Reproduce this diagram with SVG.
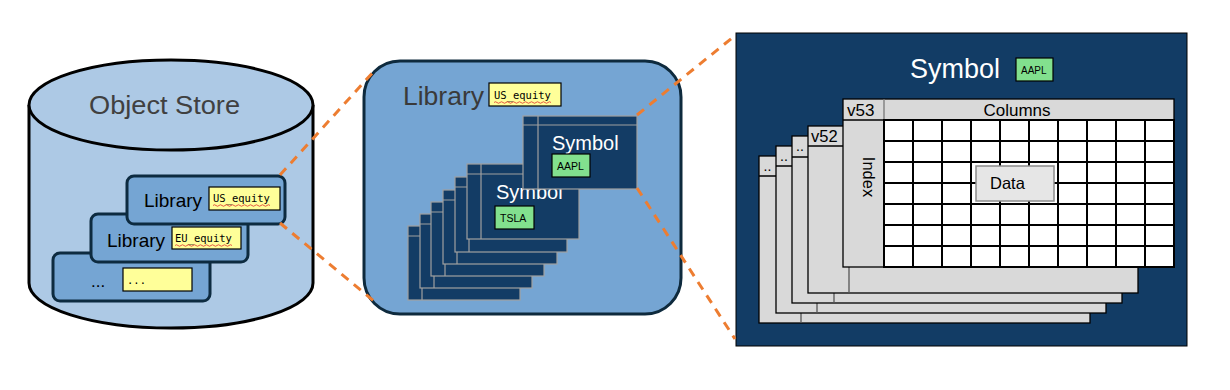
<svg xmlns="http://www.w3.org/2000/svg" width="1230" height="390" viewBox="0 0 1230 390">
<defs>
<style>
.sans{font-family:"Liberation Sans",Arial,sans-serif}
.mono{font-family:"DejaVu Sans Mono","Liberation Mono",monospace;font-size:10.5px;fill:#000}
.libbox{fill:#75a5d3;stroke:#0d2b40;stroke-width:3}
.yel{fill:#ffff99;stroke:#000;stroke-width:1.2}
.grn{fill:#82e08e;stroke:#000;stroke-width:1.2}
.card{fill:#133c65;stroke:#a0a0a0;stroke-width:1.2}
.cardln{stroke:#a0a0a0;stroke-width:1.2;fill:none}
.sheet{fill:#d9d9d9;stroke:#000;stroke-width:1.3}
.sub{stroke:#555;stroke-width:1.3;fill:none}
.cell{fill:#fff;stroke:#000;stroke-width:2}
.dash{stroke:#ed7d31;stroke-width:3;stroke-dasharray:9 7;fill:none}
.wavy{stroke:#e03030;stroke-width:0.8;fill:none}
</style>
</defs>
<rect width="1230" height="390" fill="#fff"/>

<g id="object-store">
<path d="M29,105 L29,283 A142,45 0 0 0 313,283 L313,105" fill="#adc9e5" stroke="#000" stroke-width="3"/>
<ellipse cx="171" cy="105" rx="142" ry="45" fill="#adc9e5" stroke="#000" stroke-width="3"/>
<text x="89" y="114" class="sans" font-size="25" fill="#404040" textLength="151" lengthAdjust="spacingAndGlyphs">Object Store</text>
</g>

<g id="store-lib-etc">
<rect x="53" y="253" width="157" height="48" rx="7" class="libbox"/>
<text x="91" y="287" class="sans" font-size="17" fill="#000">...</text>
<rect x="123" y="268" width="69" height="23" class="yel"/>
<text x="127" y="284" class="mono">...</text>
</g>
<g id="store-lib-eu">
<rect x="91" y="214" width="157" height="48" rx="7" class="libbox"/>
<text x="107" y="247" class="sans" font-size="19" fill="#000">Library</text>
<rect x="172" y="227" width="69" height="22" class="yel"/>
<text x="175" y="242" class="mono">EU_equity</text>
<path class="wavy" d="M175,245.5 q1.5,-1.5 3,0 t3,0 t3,0 t3,0 t3,0 t3,0 t3,0 t3,0 t3,0 t3,0 t3,0 t3,0 t3,0 t3,0 t3,0 t3,0 t3,0 t3,0 t3,0"/>
</g>
<g id="store-lib-us">
<rect x="127" y="176" width="158" height="48" rx="7" class="libbox"/>
<text x="144" y="207" class="sans" font-size="19" fill="#000">Library</text>
<rect x="209" y="187" width="71" height="23" class="yel"/>
<text x="213" y="202" class="mono">US_equity</text>
<path class="wavy" d="M213,205.5 q1.5,-1.5 3,0 t3,0 t3,0 t3,0 t3,0 t3,0 t3,0 t3,0 t3,0 t3,0 t3,0 t3,0 t3,0 t3,0 t3,0 t3,0 t3,0 t3,0 t3,0"/>
</g>

<g id="library-panel">
<rect x="364" y="61" width="317" height="253" rx="36" fill="#75a5d3" stroke="#0e2a3d" stroke-width="3"/>
<text x="403" y="105" class="sans" font-size="26" fill="#3a3a3a" textLength="81" lengthAdjust="spacingAndGlyphs">Library</text>
<rect x="489" y="83" width="72" height="23" class="yel"/>
<text x="494" y="99" class="mono">US_equity</text>
<path class="wavy" d="M494,102.5 q1.5,-1.5 3,0 t3,0 t3,0 t3,0 t3,0 t3,0 t3,0 t3,0 t3,0 t3,0 t3,0 t3,0 t3,0 t3,0 t3,0 t3,0 t3,0 t3,0 t3,0"/>
</g>

<g id="symbol-stack">
<rect x="408" y="226" width="112" height="74" class="card"/><path class="cardln" d="M422,226V300M408,236H520"/>
<rect x="420" y="214" width="112" height="74" class="card"/><path class="cardln" d="M434,214V288M420,224H532"/>
<rect x="431" y="202" width="113" height="74" class="card"/><path class="cardln" d="M445,202V276M431,212H544"/>
<rect x="443" y="190" width="114" height="74" class="card"/><path class="cardln" d="M457,190V264M443,200H557"/>
<rect x="455" y="177" width="112" height="75" class="card"/><path class="cardln" d="M469,177V252M455,187H567"/>
</g>
<g id="symbol-tsla">
<rect x="467" y="164" width="112" height="75" class="card"/><path class="cardln" d="M481,164V239M467,174H579"/>
<text x="496" y="199" class="sans" font-size="20" fill="#fff">Symbol</text>
<rect x="495" y="206" width="39" height="23" class="grn"/>
<text x="500" y="222" class="sans" font-size="10.5" fill="#000">TSLA</text>
</g>
<g id="symbol-aapl">
<rect x="523" y="116" width="114" height="73" class="card"/><path class="cardln" d="M538,116V189M523,125H637"/>
<text x="552" y="150" class="sans" font-size="20" fill="#fff">Symbol</text>
<rect x="552" y="154" width="38" height="23" class="grn"/>
<text x="557" y="170" class="sans" font-size="10.5" fill="#000">AAPL</text>
</g>

<g id="symbol-panel">
<rect x="736" y="33" width="451" height="313" fill="#123c65" stroke="#000" stroke-width="1"/>
<text x="910" y="78" class="sans" font-size="27" fill="#fff">Symbol</text>
<rect x="1016" y="58" width="37" height="23" class="grn"/>
<text x="1021" y="74" class="sans" font-size="10" fill="#000">AAPL</text>
</g>

<g id="versions">
<rect x="759" y="156" width="331" height="167" class="sheet"/>
<path class="sub" d="M801,176V323"/><path d="M759,176H801" stroke="#000" stroke-width="1.3"/>
<text x="767.5" y="171" class="sans" font-size="14" fill="#000" text-anchor="middle">..</text>

<rect x="776" y="146" width="330" height="167" class="sheet"/>
<path class="sub" d="M817,166V313"/><path d="M776,166H817" stroke="#000" stroke-width="1.3"/>
<text x="784" y="161" class="sans" font-size="14" fill="#000" text-anchor="middle">..</text>

<rect x="792" y="136" width="330" height="167" class="sheet"/>
<path class="sub" d="M834,157V303"/><path d="M792,157H834" stroke="#000" stroke-width="1.3"/>
<text x="800" y="151" class="sans" font-size="14" fill="#000" text-anchor="middle">..</text>

<rect x="808" y="126" width="330" height="167" class="sheet"/>
<path class="sub" d="M849,146V293"/><path d="M808,146H849" stroke="#000" stroke-width="1.3"/>
<text x="811" y="142" class="sans" font-size="16.5" fill="#000">v52</text>
</g>

<g id="version-v53">
<rect x="843" y="99" width="331" height="168" class="sheet"/>
<path d="M843,120H884" stroke="#000" stroke-width="1.3"/>
<path d="M884,99V120" stroke="#777" stroke-width="1.3"/>
<text x="847" y="116" class="sans" font-size="17" fill="#000">v53</text>
<text x="1017" y="116" class="sans" font-size="17" fill="#000" text-anchor="middle">Columns</text>
<text transform="translate(863,177) rotate(90)" class="sans" font-size="16.5" fill="#000" text-anchor="middle">Index</text>
<rect x="884" y="120" width="290" height="147" class="cell"/>
<path d="M913,120V267M942,120V267M971,120V267M1000,120V267M1029,120V267M1058,120V267M1087,120V267M1116,120V267M1145,120V267M884,141H1174M884,162H1174M884,183H1174M884,204H1174M884,225H1174M884,246H1174" stroke="#000" stroke-width="2" fill="none"/>
</g>
<g id="data">
<rect x="976" y="166" width="78" height="35" fill="#e6e6e6" stroke="#8c8c8c" stroke-width="1.5"/>
<text x="990" y="189" class="sans" font-size="16.5" fill="#000">Data</text>
</g>

<g id="connectors">
<path class="dash" d="M280,175L375,70"/>
<path class="dash" d="M280,223L375,302"/>
<path class="dash" d="M637,115L732,38"/>
<path class="dash" d="M637,188L735,339"/>
</g>
</svg>
